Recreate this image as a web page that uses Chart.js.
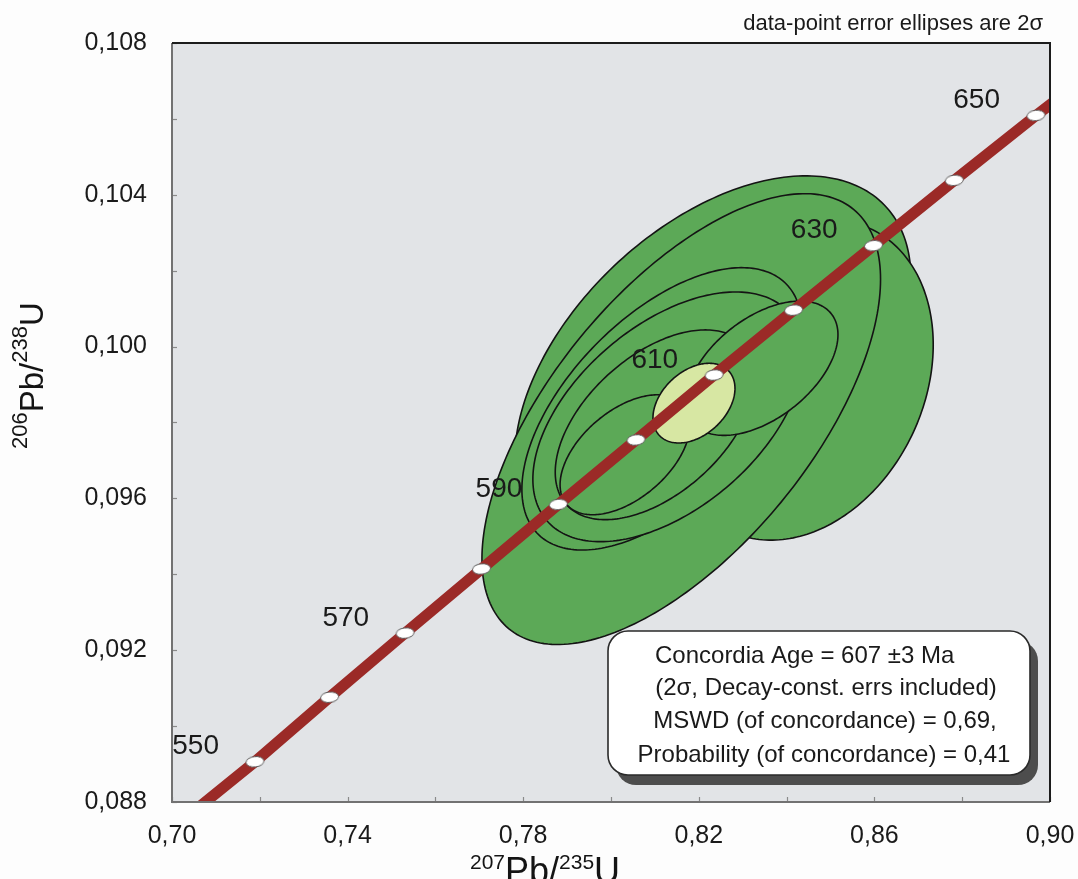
<!DOCTYPE html>
<html>
<head>
<meta charset="utf-8">
<script src="https://cdn.jsdelivr.net/npm/chart.js@4"></script>
<style>
  html, body { margin: 0; padding: 0; background: #fdfdfd; }
  canvas { display: block; }
</style>
</head>
<body>
<canvas id="chart" width="1078" height="879"></canvas>
<script>
// Concordia reference ages (Ma) with their 207Pb/235U and 206Pb/238U coordinates
const concordiaAges = [550, 560, 570, 580, 590, 600, 610, 620, 630, 640, 650];
const concordia75 = [0.7189, 0.7359, 0.7531, 0.7705, 0.7880, 0.8057, 0.8235, 0.8416, 0.8598, 0.8782, 0.8968];
const concordia68 = [0.08906, 0.09076, 0.09245, 0.09414, 0.09584, 0.09754, 0.09925, 0.10096, 0.10266, 0.10438, 0.10609];
// where the curve runs out past the plotted window
const curveEnds75 = [0.7060, 0.9030];
const curveEnds68 = [0.08785, 0.10664];
const labelledAges = [550, 570, 590, 610, 630, 650];

// Zircon analyses: ratios, 2-sigma absolute errors, error correlation
const spot75 = [0.8232, 0.8431, 0.8160, 0.8116, 0.8130, 0.8101, 0.8344, 0.8032];
const spotErr75 = [0.0451, 0.0303, 0.0454, 0.0319, 0.0308, 0.0228, 0.0173, 0.0148];
const spot68 = [0.09944, 0.09912, 0.09809, 0.09836, 0.09815, 0.09794, 0.09943, 0.09715];
const spotErr68 = [0.00506, 0.00422, 0.00594, 0.00372, 0.00329, 0.00250, 0.00177, 0.00158];
const spotRho = [0.47, 0.22, 0.62, 0.57, 0.50, 0.50, 0.50, 0.50];

// Concordia age ellipse (607 +/- 3 Ma)
const ageEllipse75 = [0.8189];
const ageErr75 = [0.00934];
const ageEllipse68 = [0.09851];
const ageErr68 = [0.00105];
const ageRho = [0.37];

// Axis ranges and steps
const xRange = [0.70, 0.90];
const yRange = [0.088, 0.108];
const xStep = 0.02;
const yStep = 0.002;

const resultLines = [
  'Concordia Age = 607 \u00B13 Ma',
  '(2\u03C3, Decay-const. errs included)',
  'MSWD (of concordance) = 0,69,',
  'Probability (of concordance) = 0,41'
];
const noteText = 'data-point error ellipses are 2\u03C3';

const FONT = '"Liberation Sans", Arial, Helvetica, sans-serif';

// white oval used as the age marker on the concordia
const marker = document.createElement('canvas');
marker.width = 21; marker.height = 13;
(function () {
  const m = marker.getContext('2d');
  m.beginPath();
  m.ellipse(10.5, 6.5, 9, 5.2, 0, 0, Math.PI * 2);
  m.fillStyle = '#ffffff';
  m.fill();
  m.lineWidth = 1;
  m.strokeStyle = '#5e5e5e';
  m.stroke();
})();

const linePoints = [{ x: curveEnds75[0], y: curveEnds68[0] }]
  .concat(concordia75.map((x, i) => ({ x, y: concordia68[i] })))
  .concat([{ x: curveEnds75[1], y: curveEnds68[1] }]);
const markerPoints = concordia75.map((x, i) => ({ x, y: concordia68[i] }));

function traceEllipse(ctx, xs, ys, cx, ex, cy, ey, rho) {
  const k = Math.sqrt(1 - rho * rho);
  ctx.beginPath();
  for (let i = 0; i <= 240; i++) {
    const t = (i / 240) * Math.PI * 2;
    const dx = ex * Math.cos(t);
    const dy = ey * (rho * Math.cos(t) + k * Math.sin(t));
    const px = xs.getPixelForValue(cx + dx);
    const py = ys.getPixelForValue(cy + dy);
    if (i === 0) ctx.moveTo(px, py); else ctx.lineTo(px, py);
  }
  ctx.closePath();
}

const plotDecor = {
  id: 'plotDecor',
  beforeDraw(chart) {
    const { ctx, chartArea: a } = chart;
    ctx.save();
    ctx.fillStyle = '#e2e4e7';
    ctx.fillRect(a.left, a.top, a.right - a.left, a.bottom - a.top);
    ctx.restore();
  },
  beforeDatasetsDraw(chart) {
    const { ctx, chartArea: a, scales } = chart;
    const xs = scales.x, ys = scales.y;
    ctx.save();
    ctx.beginPath();
    ctx.rect(a.left, a.top, a.right - a.left, a.bottom - a.top);
    ctx.clip();
    ctx.lineWidth = 1.6;
    ctx.strokeStyle = '#141414';
    for (let i = 0; i < spot75.length; i++) {
      traceEllipse(ctx, xs, ys, spot75[i], spotErr75[i], spot68[i], spotErr68[i], spotRho[i]);
      ctx.fillStyle = '#5ca957';
      ctx.fill();
      ctx.stroke();
    }
    for (let i = 0; i < ageEllipse75.length; i++) {
      traceEllipse(ctx, xs, ys, ageEllipse75[i], ageErr75[i], ageEllipse68[i], ageErr68[i], ageRho[i]);
      ctx.fillStyle = '#d7e7a3';
      ctx.fill();
      ctx.stroke();
    }
    ctx.restore();
  },
  afterDatasetsDraw(chart) {
    const { ctx, chartArea: a, scales } = chart;
    const xs = scales.x, ys = scales.y;
    ctx.save();
    // inward tick marks
    ctx.strokeStyle = '#8a8a8a';
    ctx.lineWidth = 1.2;
    xs.ticks.forEach(t => {
      const px = Math.round(xs.getPixelForValue(t.value)) + 0.5;
      ctx.beginPath(); ctx.moveTo(px, a.bottom); ctx.lineTo(px, a.bottom - 5); ctx.stroke();
    });
    ys.ticks.forEach(t => {
      const py = Math.round(ys.getPixelForValue(t.value)) + 0.5;
      ctx.beginPath(); ctx.moveTo(a.left, py); ctx.lineTo(a.left + 5, py); ctx.stroke();
    });
    // frame
    ctx.lineWidth = 2;
    ctx.strokeStyle = '#727272';
    ctx.beginPath();
    ctx.moveTo(a.left, a.top); ctx.lineTo(a.left, a.bottom); ctx.lineTo(a.right, a.bottom);
    ctx.stroke();
    ctx.strokeStyle = '#1c1c1c';
    ctx.beginPath();
    ctx.moveTo(a.left, a.top); ctx.lineTo(a.right, a.top); ctx.lineTo(a.right, a.bottom);
    ctx.stroke();

    // age labels along the concordia
    ctx.fillStyle = '#1a1a1a';
    ctx.font = '28px ' + FONT;
    ctx.textAlign = 'right';
    ctx.textBaseline = 'middle';
    labelledAges.forEach(age => {
      const i = concordiaAges.indexOf(age);
      const px = xs.getPixelForValue(concordia75[i]);
      const py = ys.getPixelForValue(concordia68[i]);
      ctx.fillText(String(age), px - 36, py - 15);
    });
    ctx.restore();
  },
  afterDraw(chart) {
    const { ctx } = chart;
    ctx.save();

    // result box with drop shadow
    const bx = 608, by = 631, bw = 422, bh = 144, r = 20;
    const rr = (x, y) => {
      ctx.beginPath();
      ctx.roundRect(x, y, bw, bh, r);
    };
    rr(bx + 8, by + 10);
    ctx.fillStyle = '#4d4d4d';
    ctx.fill();
    rr(bx, by);
    ctx.fillStyle = '#ffffff';
    ctx.fill();
    ctx.lineWidth = 1.6;
    ctx.strokeStyle = '#2a2a2a';
    ctx.stroke();

    ctx.fillStyle = '#1a1a1a';
    ctx.font = '24px ' + FONT;
    ctx.textBaseline = 'middle';
    ctx.textAlign = 'left';
    ctx.fillText(resultLines[0], 655, 656);
    ctx.textAlign = 'center';
    ctx.fillText(resultLines[1], 826, 688);
    ctx.fillText(resultLines[2], 825, 721);
    ctx.fillText(resultLines[3], 824, 755);

    // note above the plot
    ctx.font = '22px ' + FONT;
    ctx.textAlign = 'right';
    ctx.textBaseline = 'alphabetic';
    ctx.fillText(noteText, 1043, 30);

    // axis titles with superscript mass numbers
    const drawIso = (parts, x0, y0) => {
      let x = x0;
      parts.forEach(p => {
        ctx.font = p.size + 'px ' + FONT;
        ctx.fillText(p.t, x, y0 - p.raise);
        x += ctx.measureText(p.t).width;
      });
    };
    ctx.textAlign = 'left';
    ctx.fillStyle = '#141414';
    drawIso([
      { t: '207', size: 21, raise: 14 },
      { t: 'Pb/', size: 36, raise: 0 },
      { t: '235', size: 21, raise: 14 },
      { t: 'U', size: 36, raise: 0 }
    ], 470, 883);

    ctx.translate(43, 449);
    ctx.rotate(-Math.PI / 2);
    drawIso([
      { t: '206', size: 22, raise: 16 },
      { t: 'Pb/', size: 33, raise: 0 },
      { t: '238', size: 22, raise: 16 },
      { t: 'U', size: 33, raise: 0 }
    ], 0, 0);
    ctx.restore();
  }
};

const comma = (v, d) => v.toFixed(d).replace('.', ',');

new Chart(document.getElementById('chart'), {
  type: 'scatter',
  data: {
    datasets: [
      {
        data: markerPoints,
        pointStyle: marker,
        pointRadius: 5,
        pointRotation: -6,
        showLine: false
      },
      {
        data: linePoints,
        showLine: true,
        borderColor: '#9b2a27',
        borderWidth: 11,
        pointRadius: 0,
        fill: false
      }
    ]
  },
  options: {
    responsive: false,
    animation: false,
    devicePixelRatio: 1,
    events: [],
    layout: { padding: { left: 0, top: 43, right: 28, bottom: 0 } },
    plugins: { legend: { display: false }, tooltip: { enabled: false } },
    scales: {
      x: {
        type: 'linear',
        min: xRange[0], max: xRange[1],
        grid: { display: false, drawTicks: false },
        border: { display: false },
        ticks: {
          stepSize: xStep,
          autoSkip: false,
          maxRotation: 0,
          padding: 19,
          color: '#1a1a1a',
          font: { family: FONT, size: 25 },
          callback: v => (Math.round(v * 100) % 4 === 2 ? comma(v, 2) : '')
        },
        afterFit(s) { s.height = 77; s.paddingLeft = 0; s.paddingRight = 0; }
      },
      y: {
        type: 'linear',
        min: yRange[0], max: yRange[1],
        grid: { display: false, drawTicks: false },
        border: { display: false },
        ticks: {
          stepSize: yStep,
          autoSkip: false,
          padding: 25,
          color: '#1a1a1a',
          font: { family: FONT, size: 25 },
          callback: v => (Math.round(v * 1000) % 4 === 0 ? comma(v, 3) : '')
        },
        afterFit(s) { s.width = 172; s.paddingTop = 0; s.paddingBottom = 0; }
      }
    }
  },
  plugins: [plotDecor]
});
</script>
</body>
</html>
